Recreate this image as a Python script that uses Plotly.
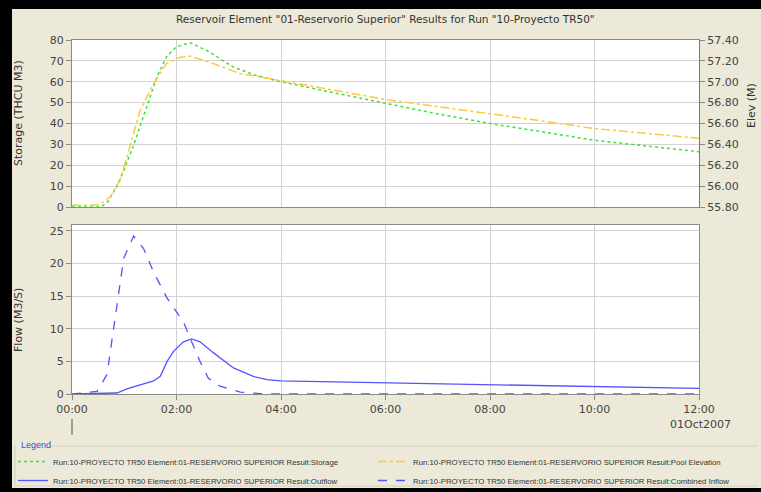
import plotly.graph_objects as go
from plotly.subplots import make_subplots

# --- data (time in hours from 01Oct2007 00:00) ---
storage_hours = [0, 0.5, 0.6, 0.7, 0.85, 1.0, 1.17, 1.3, 1.43, 1.62, 1.81, 2.0, 2.26, 2.58,
                 3.09, 3.5, 4.0, 5.0, 6.0, 7.0, 8.0, 9.0, 10.0, 11.0, 12.0]
storage = [0, 0, 0.8, 3, 9.6, 18, 29, 39, 48, 62, 72, 76.8, 78.7, 75,
           67, 63.2, 60, 54.8, 49.6, 44.6, 40, 36, 32, 29.2, 26.5]

elev_hours = [0, 0.52, 0.73, 0.92, 1.11, 1.3, 1.56, 1.81, 2.07, 2.26, 2.7, 3.2, 4.0,
              5.0, 6.0, 7.0, 8.0, 9.0, 10.0, 11.0, 12.0]
pool_elev = [55.816, 55.82, 55.896, 56.056, 56.38, 56.72, 56.98, 57.176, 57.234, 57.246,
             57.176, 57.08, 57.01, 56.92, 56.83, 56.762, 56.696, 56.624, 56.552, 56.504, 56.458]

outflow_hours = [0, 0.86, 1.05, 1.31, 1.56, 1.69, 1.82, 1.94, 2.13, 2.29, 2.45, 2.71, 3.09,
                 3.47, 3.73, 4.0, 5.0, 6.0, 6.85, 7.8, 8.76, 9.97, 11.3, 12.0]
outflow = [0, 0.15, 0.8, 1.4, 2.0, 2.7, 5.0, 6.5, 8.0, 8.45, 8.0, 6.3, 4.0,
           2.7, 2.2, 2.0, 1.85, 1.7, 1.55, 1.4, 1.25, 1.1, 0.95, 0.85]

inflow_hours = [0, 0.48, 0.67, 0.83, 0.99, 1.18, 1.37, 1.56, 1.82, 2.0, 2.13, 2.29, 2.45,
                2.61, 2.83, 3.22, 3.6, 4.0, 6.0, 8.0, 10.0, 12.0]
inflow = [0, 0.4, 3, 12, 20.8, 24.2, 22.3, 18.7, 14.7, 12.6, 11.1, 8, 5,
          2.4, 1.2, 0.3, 0.05, 0, 0, 0, 0, 0]

tick_hours = [0, 2, 4, 6, 8, 10, 12]
tick_text = ["00:00", "02:00", "04:00", "06:00", "08:00", "10:00", "12:00"]

prefix = "Run:10-PROYECTO TR50 Element:01-RESERVORIO SUPERIOR Result:"
W, H = 761, 492
L, R, T, B = 72, 62, 40, 98
BG = "#ECE9D8"
GRID = "#d2d2d2"
AXC = "#8a8a8a"
TXT = "#444444"
FONT = "DejaVu Sans"


def px(x):
    return (x - L) / (W - L - R)


def py(y):
    return (H - B - y) / (H - T - B)


fig = make_subplots(rows=2, cols=1, shared_xaxes=True, vertical_spacing=0.05,
                    specs=[[{"secondary_y": True}], [{"secondary_y": False}]])

# two legends side by side, like the two columns of the reference
fig.add_trace(go.Scatter(x=storage_hours, y=storage, mode="lines", name=prefix + "Storage",
                         legend="legend", line=dict(color="#3ee03e", width=1.5, dash="dot")),
              row=1, col=1, secondary_y=False)
fig.add_trace(go.Scatter(x=elev_hours, y=pool_elev, mode="lines", name=prefix + "Pool Elevation",
                         legend="legend2", line=dict(color="#ffc83c", width=1.5, dash="dashdot")),
              row=1, col=1, secondary_y=True)
fig.add_trace(go.Scatter(x=outflow_hours, y=outflow, mode="lines", name=prefix + "Outflow",
                         legend="legend", line=dict(color="#5353ff", width=1.3)),
              row=2, col=1)
fig.add_trace(go.Scatter(x=inflow_hours, y=inflow, mode="lines", name=prefix + "Combined Inflow",
                         legend="legend2", line=dict(color="#5353ff", width=1.3, dash="dash")),
              row=2, col=1)

xcommon = dict(range=[0, 12], tickvals=tick_hours, ticktext=tick_text, showgrid=True,
               gridcolor=GRID, showline=True, linecolor=AXC, mirror=True, zeroline=False,
               domain=[0, 1], tickfont=dict(family=FONT, size=11, color=TXT))
fig.update_xaxes(**xcommon)
fig.update_xaxes(showticklabels=False, ticks="", row=1, col=1)
fig.update_xaxes(ticks="outside", ticklen=5, tickcolor=AXC, row=2, col=1)

ycommon = dict(showgrid=True, gridcolor=GRID, showline=True, linecolor=AXC, mirror=True,
               zeroline=False, ticks="outside", ticklen=5, tickcolor=AXC,
               tickfont=dict(family=FONT, size=11, color=TXT))
fig.update_yaxes(range=[0, 80], dtick=10, **ycommon, row=1, col=1, secondary_y=False)
fig.update_yaxes(range=[0, 25.9], dtick=5, **ycommon, row=2, col=1)
fig.update_yaxes(range=[55.8, 57.4], dtick=0.2, tickformat=".2f", showgrid=False,
                 showline=True, linecolor="#777777", ticks="outside", ticklen=5, tickcolor=AXC,
                 zeroline=False, tickfont=dict(family=FONT, size=11, color=TXT),
                 row=1, col=1, secondary_y=True)

fig.layout.yaxis.domain = [py(207), 1]
fig.layout.yaxis2.domain = [py(207), 1]
fig.layout.yaxis3.domain = [0, py(225)]

# axis titles and date label as annotations so they sit where the reference has them
annos = [
    dict(text='Reservoir Element "01-Reservorio Superior" Results for Run "10-Proyecto TR50"',
         x=0.5, y=py(19), font=dict(size=10.5, color="#333333")),
    dict(text="Storage (THCU M3)", x=px(18), y=py(113), textangle=-90, font=dict(size=11, color="#333333")),
    dict(text="Elev (M)", x=px(752), y=py(106), textangle=-90, font=dict(size=11, color="#333333")),
    dict(text="Flow (M3/S)", x=px(18), y=py(320), textangle=-90, font=dict(size=11, color="#333333")),
    dict(text="01Oct2007", x=px(700), y=py(425), font=dict(size=11, color=TXT)),
]
for a in annos:
    fig.add_annotation(xref="paper", yref="paper", showarrow=False, xanchor="center",
                       yanchor="middle", font_family=FONT, **a)
fig.add_annotation(xref="paper", yref="paper", showarrow=False, xanchor="left", yanchor="middle",
                   text="Legend", x=px(19), y=py(445),
                   font=dict(family="Liberation Sans", size=9, color="#3050d0"))

shapes = [
    # black frame on left, top, bottom
    dict(type="rect", x0=px(0), x1=px(12), y0=py(H), y1=py(0), fillcolor="black", line_width=0),
    dict(type="rect", x0=px(0), x1=px(W), y0=py(9), y1=py(0), fillcolor="black", line_width=0),
    dict(type="rect", x0=px(0), x1=px(W), y0=py(H), y1=py(488), fillcolor="black", line_width=0),
    # day marker under 00:00
    dict(type="line", x0=px(72), x1=px(72), y0=py(419), y1=py(435), line=dict(color="#555555", width=1)),
    # legend group box
    dict(type="line", x0=px(15), x1=px(15), y0=py(446), y1=py(486), line=dict(color="#d4d0c0", width=1)),
    dict(type="line", x0=px(50), x1=px(758), y0=py(446), y1=py(446), line=dict(color="#d4d0c0", width=1)),
    dict(type="line", x0=px(15), x1=px(758), y0=py(486), y1=py(486), line=dict(color="#d4d0c0", width=1)),
]
for s in shapes:
    fig.add_shape(xref="paper", yref="paper", layer="above", **s)

legend_common = dict(orientation="v", xanchor="left", yanchor="top", traceorder="normal",
                     bgcolor="rgba(0,0,0,0)", itemwidth=30, tracegroupgap=0,
                     font=dict(family="Liberation Sans", size=7.8, color="#333333"))

fig.update_layout(
    width=W, height=H,
    margin=dict(l=L, r=R, t=T, b=B, autoexpand=False),
    paper_bgcolor=BG, plot_bgcolor="white",
    font=dict(family=FONT, color=TXT),
    showlegend=True,
    legend=dict(x=px(13), y=py(447), **legend_common),
    legend2=dict(x=px(373), y=py(447), **legend_common),
)

fig.write_html("out.html", config={"displayModeBar": False},
               post_script="document.body.style.margin='0';")
